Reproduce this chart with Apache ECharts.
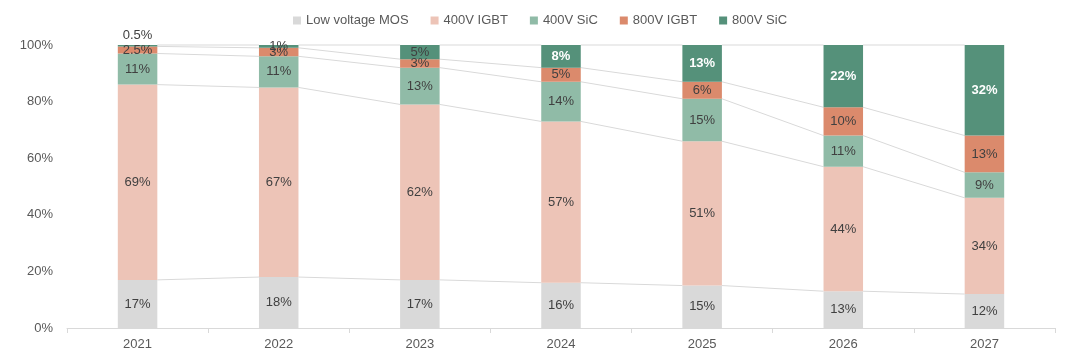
<!DOCTYPE html>
<html><head><meta charset="utf-8">
<script src="https://cdn.jsdelivr.net/npm/echarts@6/dist/echarts.min.js"></script>
<style>html,body{margin:0;padding:0;background:#fff}#c{width:1080px;height:362px}</style>
</head><body><div id="c"></div>
<script>
var categories = ['2021','2022','2023','2024','2025','2026','2027'];
var lowVoltageMOS = [17,18,17,16,15,13,12];
var igbt400 = [69,67,62,57,51,44,34];
var sic400 = [11,11,13,14,15,11,9];
var igbt800 = [2.5,3,3,5,6,10,13];
var sic800 = [0.5,1,5,8,13,22,32];
var seriesNames = ['Low voltage MOS','400V IGBT','400V SiC','800V IGBT','800V SiC'];
var yTicks = [0,20,40,60,80,100];

var allSeries = [lowVoltageMOS, igbt400, sic400, igbt800, sic800];
var colors = ['#d9d9d9','#edc4b7','#90bba7','#db8a6c','#55917a'];
var BAR_FRAC = 0.28;
var font = 'Liberation Sans, Arial, sans-serif';

function cumAt(i, k){ var s=0; for(var j=0;j<=k;j++) s+=allSeries[j][i]; return s; }

var chart = echarts.init(document.getElementById('c'));
var series = allSeries.map(function(arr, k){
  var isTop = k===4;
  return {
    name: seriesNames[k], type:'bar', stack:'t', barWidth: (BAR_FRAC*100)+'%',
    itemStyle:{color:colors[k]},
    label:{show:true, position:'inside', formatter:'{c}%', fontFamily:font, fontSize:13,
      color:'#404040'},
    data: arr.map(function(v){
      if (isTop && v < 1) return {value:v, label:{position:'top', distance:3}};
      if (isTop && v >= 8) return {value:v, label:{color:'#ffffff', fontWeight:'bold'}};
      return v;
    }),
    z:3
  };
});
series.push({
  type:'custom', silent:true, z:1,
  data: categories.slice(0, categories.length-1).map(function(c,i){return [i];}),
  renderItem: function(params, api){
    var i = api.value(0);
    var half = api.size([1,0])[0]*BAR_FRAC/2;
    var children = [];
    for (var k=0;k<5;k++){
      var p1 = api.coord([i, cumAt(i,k)]);
      var p2 = api.coord([i+1, cumAt(i+1,k)]);
      children.push({type:'line', shape:{x1:p1[0]+half, y1:p1[1], x2:p2[0]-half, y2:p2[1]},
        style:{stroke:'#d9d9d9', lineWidth:1}});
    }
    return {type:'group', children:children};
  }
});

chart.setOption({
  animation:false,
  legend:{top:9, left:'center', data:seriesNames, icon:'rect', itemWidth:8, itemHeight:8, itemGap:22,
    textStyle:{fontFamily:font, fontSize:13, color:'#595959'}},
  grid:{left:67, right:25, top:45, bottom:34},
  xAxis:{type:'category', data:categories,
    axisLine:{lineStyle:{color:'#d9d9d9'}}, axisTick:{show:true, alignWithLabel:false, lineStyle:{color:'#d9d9d9'}},
    axisLabel:{fontFamily:font, fontSize:13, color:'#595959', margin:10}},
  yAxis:{type:'value', min:0, max:100, interval:20,
    splitLine:{show:false}, axisLine:{show:false}, axisTick:{show:false},
    axisLabel:{fontFamily:font, fontSize:13, color:'#595959', margin:14,
      formatter:function(v){ return yTicks.indexOf(v)>=0 ? v+'%' : ''; }}},
  series: series
});
</script></body></html>
